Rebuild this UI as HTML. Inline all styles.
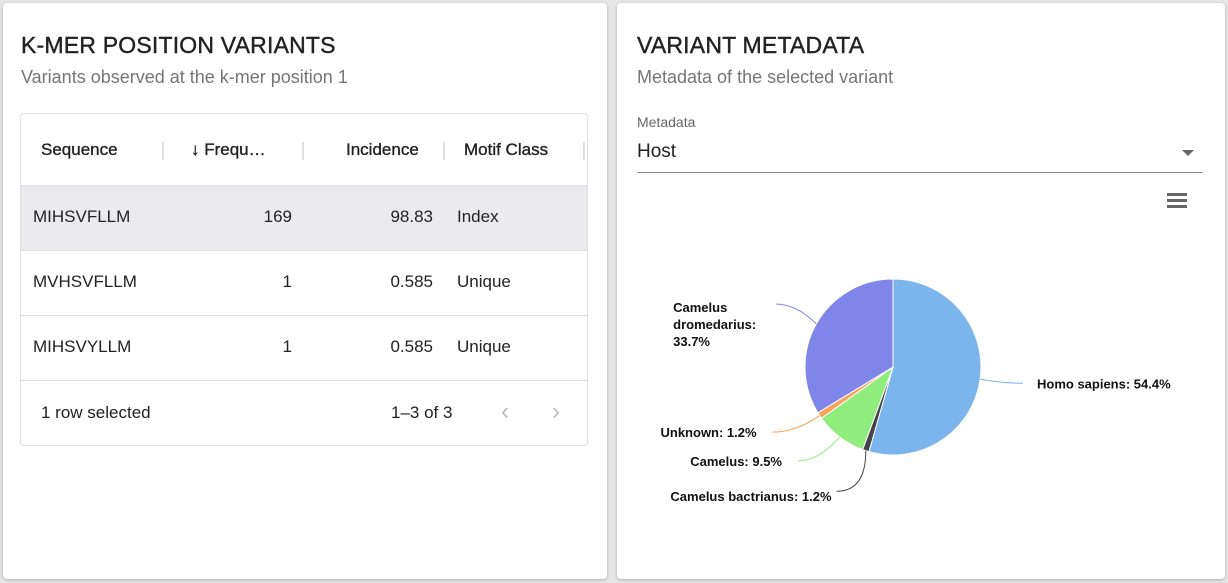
<!DOCTYPE html>
<html><head><meta charset="utf-8"><style>
body{margin:0;width:1228px;height:583px;background:#e6e6e6;font-family:"Liberation Sans",Roboto,sans-serif;position:relative;overflow:hidden}
.card{position:absolute;background:#fff;border-radius:4px;box-shadow:0 1px 3px rgba(0,0,0,.25)}
h2{position:absolute;margin:0;font-size:23px;font-weight:400;color:#222;letter-spacing:.2px;-webkit-text-stroke:0.4px #222}
.sub{position:absolute;font-size:18px;color:#757575}
.tbl{position:absolute;left:17px;top:110px;width:566px;height:331px;border:1px solid #e0e0e0;border-radius:4px;overflow:hidden}
.cell{position:absolute;font-size:17px;color:#222}
.hdr{color:#222;-webkit-text-stroke:0.35px #222}
.sep{position:absolute;width:2px;height:18px;background:#e0e0e0;top:28px}
.row{position:absolute;left:0;width:566px;height:64px;border-top:1px solid #e0e0e0}
</style></head><body>
<div class="card" style="left:3px;top:3px;width:604px;height:576px">
<h2 style="left:18px;top:29px">K-MER POSITION VARIANTS</h2>
<div class="sub" style="left:18px;top:64px">Variants observed at the k-mer position 1</div>
<div class="tbl">
 <div class="cell hdr" style="left:20px;top:26px">Sequence</div>
 <div class="sep" style="left:141px"></div>
 <div class="cell hdr" style="left:170px;top:26px">↓ Frequ…</div>
 <div class="sep" style="left:281px"></div>
 <div class="cell hdr" style="left:325px;top:26px">Incidence</div>
 <div class="sep" style="left:422px"></div>
 <div class="cell hdr" style="left:443px;top:26px">Motif Class</div>
 <div class="sep" style="left:562px"></div>
 <div class="row" style="top:71px;background:#ebebef">
  <div class="cell" style="left:12px;top:21px">MIHSVFLLM</div><div class="cell" style="right:295px;top:21px">169</div><div class="cell" style="right:154px;top:21px">98.83</div><div class="cell" style="left:436px;top:21px">Index</div></div>
 <div class="row" style="top:136px">
  <div class="cell" style="left:12px;top:21px">MVHSVFLLM</div><div class="cell" style="right:295px;top:21px">1</div><div class="cell" style="right:154px;top:21px">0.585</div><div class="cell" style="left:436px;top:21px">Unique</div></div>
 <div class="row" style="top:201px">
  <div class="cell" style="left:12px;top:21px">MIHSVYLLM</div><div class="cell" style="right:295px;top:21px">1</div><div class="cell" style="right:154px;top:21px">0.585</div><div class="cell" style="left:436px;top:21px">Unique</div></div>
 <div class="row" style="top:266px">
  <div class="cell" style="left:20px;top:22px">1 row selected</div>
  <div class="cell" style="left:370px;top:22px">1–3 of 3</div>
  <div class="cell" style="left:480px;top:17px;color:#bbb;font-size:24px">‹</div>
  <div class="cell" style="left:531px;top:17px;color:#bbb;font-size:24px">›</div>
 </div>
</div>
</div>
<div class="card" style="left:617px;top:3px;width:608px;height:576px">
<h2 style="left:20px;top:29px">VARIANT METADATA</h2>
<div class="sub" style="left:20px;top:64px">Metadata of the selected variant</div>
<div style="position:absolute;left:20px;top:111px;font-size:14px;color:#666">Metadata</div>
<div style="position:absolute;left:20px;top:138px;width:566px;height:31px;border-bottom:1px solid #888;font-size:19px;color:#222">Host<span style="position:absolute;right:9px;top:9px;width:0;height:0;border-left:6px solid transparent;border-right:6px solid transparent;border-top:6px solid #666"></span></div>
<div style="position:absolute;left:550px;top:190px;width:20px">
 <div style="height:3px;background:#666;margin-bottom:3px"></div><div style="height:3px;background:#666;margin-bottom:3px"></div><div style="height:3px;background:#666"></div></div>
</div>
<svg id="pie" width="1228" height="583" style="position:absolute;left:0;top:0"></svg>
<script>
const categories=["Homo sapiens","Camelus bactrianus","Camelus","Unknown","Camelus dromedarius"];
const values=[54.4,1.2,9.5,1.2,33.7];
const colors=["#7cb5ec","#434348","#90ed7d","#f7a35c","#8085e9"];
const svg=document.getElementById('pie');
const NS="http://www.w3.org/2000/svg";
const cx=893,cy=367,r=88;
const total=values.reduce((a,b)=>a+b,0);
function pt(a,rad){return [cx+rad*Math.sin(a),cy-rad*Math.cos(a)];}
let acc=0;
values.forEach((v,i)=>{
 const a0=acc/total*2*Math.PI;acc+=v;const a1=acc/total*2*Math.PI;
 const p0=pt(a0,r),p1=pt(a1,r);
 const path=document.createElementNS(NS,'path');
 path.setAttribute('d',`M${cx},${cy}L${p0[0]},${p0[1]}A${r},${r} 0 ${a1-a0>Math.PI?1:0} 1 ${p1[0]},${p1[1]}Z`);
 path.setAttribute('fill',colors[i]);path.setAttribute('stroke','#fff');path.setAttribute('stroke-width','1');
 
 
 svg.appendChild(path);
 const am=(a0+a1)/2;const e=pt(am,r);
 const right=Math.sin(am)>0;
 const c=Math.cos(am);
 const bottom=c<-0.9;
 let ly=cy-(r+30)*c+(bottom?17:0), lx;
 if(right){lx=cx+144;}
 else if(bottom){lx=cx+(r+30)*Math.sin(am)-25;}
 else{lx=Math.min(782,cx+(r+30)*Math.sin(am)-38);}
 const txt=categories[i]+": "+v.toFixed(1)+"%";
 const multi=!right && categories[i].length>15 && c>0;
 const line=document.createElementNS(NS,'path');
 let ex=right?lx-14:(multi?lx+24:lx+16);
 if(bottom) ex=lx+5;
 const ey=multi?ly-5:(bottom?ly-5:ly);
 line.setAttribute('d',`M${e[0]},${e[1]}Q${bottom?e[0]:(e[0]+ex)/2},${ey} ${ex},${ey}`);
 line.setAttribute('fill','none');line.setAttribute('stroke',colors[i]);line.setAttribute('stroke-width','1');
 
 
 svg.appendChild(line);
 const t=document.createElementNS(NS,'text');
 t.setAttribute('font-size','13');t.setAttribute('font-weight','bold');t.setAttribute('fill','#111');
 t.setAttribute('font-family','"Liberation Sans",sans-serif');
 
 
 if(right){t.setAttribute('x',lx);t.setAttribute('y',ly+5);t.textContent=txt;}
 else if(multi){
  const parts=categories[i].split(' ');
  const lines=[parts[0],parts.slice(1).join(' ')+':',v.toFixed(1)+'%'];
  lines.forEach((s,k)=>{const ts=document.createElementNS(NS,'tspan');ts.setAttribute('x',lx-79);ts.setAttribute('y',ly+3+k*17);ts.textContent=s;t.appendChild(ts);});
 } else {t.setAttribute('x',lx);t.setAttribute('y',ly+5);t.setAttribute('text-anchor','end');t.textContent=txt;}
 svg.appendChild(t);
});
</script>
</body></html>
